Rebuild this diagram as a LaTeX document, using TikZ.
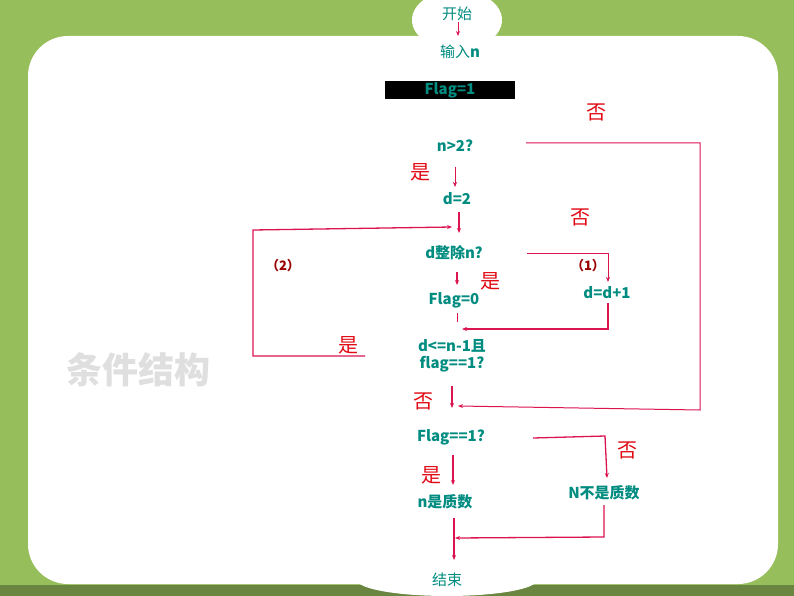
\documentclass[tikz,border=0pt]{standalone}
\usepackage{fontspec}
\setmainfont{Noto Sans CJK SC}
\usetikzlibrary{arrows.meta}
\definecolor{teal1}{RGB}{0,140,128}
\definecolor{crim}{RGB}{220,20,80}
\definecolor{lab}{RGB}{225,10,20}
\definecolor{bgg}{RGB}{150,190,90}
\tikzset{
 txt/.style={text=teal1,font=\bfseries\fontsize{15}{17}\selectfont,inner sep=1pt},
 cn/.style={text=teal1,font=\fontsize{15}{17}\selectfont,inner sep=1pt},
 lbl/.style={text=lab,font=\fontsize{20}{22}\selectfont,inner sep=0pt},
 num/.style={text=red!60!black,font=\bfseries\fontsize{13}{14}\selectfont},
 con/.style={draw=crim,line width=1.3pt},
 arr/.style={con,-{Stealth[length=5pt,width=4pt]}},
}
\begin{document}
\begin{tikzpicture}[x=1pt,y=-1pt]
\useasboundingbox (0,0) rectangle (794,596);
\fill[bgg] (0,0) rectangle (794,596);
\fill[bgg!70!black] (0,585) rectangle (794,596);
\fill[white,rounded corners=40pt] (28,36) rectangle (778,584);
\fill[white] (457,20) ellipse (45 and 30);
\fill[white] (447,580) ellipse (90 and 16);
\node[text=gray!25,font=\bfseries\fontsize{36}{38}\selectfont] (tj) at (138,370) {\addfontfeature{FakeBold=0}条件结构};
\fill[black] (385,81) rectangle (515,99);
\node[cn] (start) at (457,14) {开始};
\node[cn] (inp) at (460,52) {输入\textbf{n}};
\node[txt] (f1) at (450,90) {Flag=1};
\node[txt] (n2) at (455,146) {n>2?};
\node[txt] (d2) at (457,199) {d=2};
\node[txt] (dz) at (454,253) {d整除n?};
\node[txt] (dd) at (607,293) {d=d+1};
\node[txt] (f0) at (454,300) {Flag=0};
\node[txt,align=center] (cond) at (452,356) {d<=n-1且\\flag==1?};
\node[txt] (f2) at (451,437) {Flag==1?};
\node[txt] (p) at (445,502) {n是质数};
\node[txt] (np) at (604,493) {N不是质数};
\node[cn] (end) at (447,580) {结束};
\node[lbl] (l1) at (596,112) {否};
\node[lbl] (l2) at (420,172) {是};
\node[lbl] (l3) at (580,217) {否};
\node[lbl] (l4) at (490,281) {是};
\node[lbl] (l5) at (348,345) {是};
\node[lbl] (l6) at (423,401) {否};
\node[lbl] (l7) at (627,450) {否};
\node[lbl] (l8) at (431,475) {是};
\node[num] (c2) at (283,266) {（2）};
\node[num] (c1) at (588,266) {（1）};
\coordinate (a0) at (458,22); \coordinate (a1) at (458,36);
\draw[arr,line width=1pt] (a0) -- (a1);
\coordinate (b0) at (526,143); \coordinate (b1) at (700,143); \coordinate (b2) at (700,410); \coordinate (b3) at (458,406);
\draw[arr,line width=1pt] (b0) -- (b1) -- (b2) -- (b3);
\draw[arr,line width=0.6pt] (455,167) -- (455,187);
\draw[arr] (459,212) -- (459,233);
\draw[arr] (365,356) -- (253,356) -- (253,230) -- (452,227);
\draw[arr,line width=0.8pt] (527,253) -- (608,253) -- (608,282);
\draw[arr] (608,303) -- (608,329) -- (462,329);
\draw[arr] (457,272) -- (457,285);
\draw[con,line width=1pt] (457,313) -- (457,322);
\draw[arr] (452,386) -- (452,408);
\draw[arr] (533,438) -- (605,436) -- (607,478);
\draw[arr] (453,455) -- (453,485);
\draw[arr] (604,505) -- (604,537) -- (455,538);
\draw[arr] (454,518) -- (454,560);
\end{tikzpicture}
\end{document}
